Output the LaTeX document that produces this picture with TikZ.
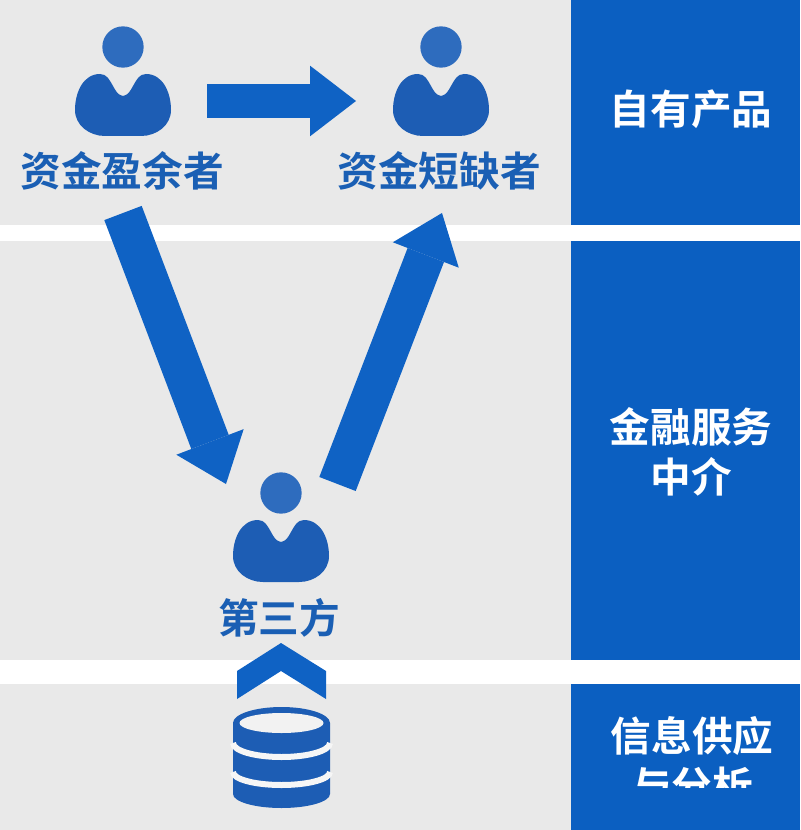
\documentclass[tikz,border=0pt]{standalone}
\usepackage{fontspec}
\setmainfont{Noto Sans CJK SC Bold}
\usetikzlibrary{arrows.meta}
\definecolor{panelblue}{HTML}{0B5FC1}
\definecolor{arrowblue}{HTML}{0F62C4}
\definecolor{iconblue}{HTML}{1D5DB4}
\definecolor{headblue}{HTML}{2E6CBE}
\definecolor{textblue}{HTML}{1A5FB4}
\definecolor{backgray}{HTML}{E9E9E9}
\tikzset{
  x=0.75pt,y=-0.75pt,
  darklabel/.style={text=textblue,font=\fontsize{30.5}{37.5}\selectfont,inner sep=0pt},
  whitelabel/.style={text=white,font=\fontsize{30.5}{37.5}\selectfont,inner sep=0pt,align=center},
  bigarrow/.style={draw=arrowblue,line width=#1},
  person/.pic={
    \fill[headblue] (0,0) circle (15.5pt);
    \fill[iconblue] (0,49) to [out=170,in=-60] (-10,39) to [out=120,in=0] (-23,27)
    to [out=180,in=90] (-48,63) to [out=-90,in=180] (-18,89) -- (18,89)
    to [out=0,in=-90] (48,63) to [out=90,in=0] (23,27)
    to [out=180,in=60] (10,39) to [out=-120,in=10] (0,49) -- cycle;
  }
}
\begin{document}
\begin{tikzpicture}
\useasboundingbox (0,0) rectangle (800,830);
% background and bands
\fill[backgray] (0,0) rectangle (571,830);
\fill[panelblue] (571,0) rectangle (800,830);
\fill[white] (0,225) rectangle (800,241);
\fill[white] (0,660) rectangle (800,684);
% people
\pic at (123,47) {person};
\pic at (441,47) {person};
\pic at (281,493) {person};
\node[darklabel] (surplus) at (122,171) {资金盈余者};
\node[darklabel] (deficit) at (439,171) {资金短缺者};
\node[darklabel] (third) at (279,618) {第三方};
% arrows
\coordinate (directa) at (207,101);
\coordinate (directb) at (356,101);
\coordinate (lenda) at (123,213);
\coordinate (lendb) at (226,484);
\coordinate (fundsa) at (337.5,484);
\coordinate (fundsb) at (442,213);
\draw[bigarrow=25.5pt,-{Triangle[length=34.5pt,width=53pt,line width=0pt]}] (directa) -- (directb);
\draw[bigarrow=30pt,-{Triangle[length=33.75pt,width=54pt,line width=0pt]}] (lenda) -- (lendb);
\draw[bigarrow=29.25pt,-{Triangle[length=33.75pt,width=53pt,line width=0pt]}] (fundsa) -- (fundsb);
% chevron
\fill[arrowblue] (237,671) -- (281,643) -- (326,671) -- (326,699) -- (281,671) -- (237,699) -- cycle;
% database
\fill[iconblue] (233,723) arc [start angle=180,end angle=360,x radius=48.5,y radius=16]
-- (330,794) arc [start angle=0,end angle=180,x radius=48.5,y radius=14] -- cycle;
\fill[backgray!60!white] (281.5,723) ellipse [x radius=31.5pt,y radius=7.5pt];
\draw[backgray!40!white,line width=4.5pt] (233,743) arc [start angle=180,end angle=0,x radius=48.5,y radius=14];
\draw[backgray!40!white,line width=4.5pt] (233,772) arc [start angle=180,end angle=0,x radius=48.5,y radius=13];
% right column
\node[whitelabel] (own) at (691,109) {自有产品};
\node[whitelabel] (broker) at (691,452) {金融服务\\中介};
\node[whitelabel] (info) at (692,761) {信息供应\\与分析};
\fill[panelblue] (572,788) rectangle (800,830);
\end{tikzpicture}
\end{document}
